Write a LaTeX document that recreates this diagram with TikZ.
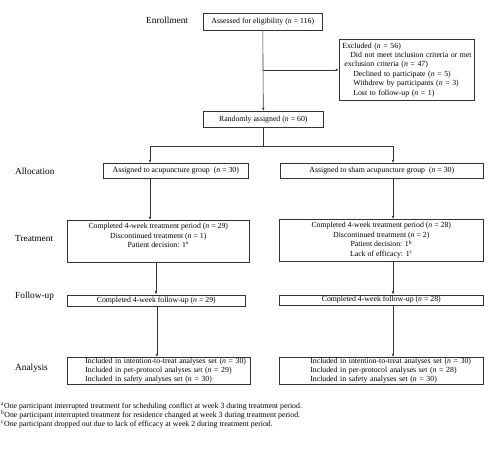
\documentclass[tikz,border=0pt]{standalone}
\usepackage{fontspec}
\setmainfont{Liberation Serif}
\usetikzlibrary{arrows.meta}
\begin{document}
\begin{tikzpicture}[x=1pt,y=-1pt,
  box/.style={draw=black!80, line width=0.6pt, inner sep=0pt, anchor=north west,
    font=\fontsize{7.8}{9.6}\selectfont, align=center},
  lbl/.style={anchor=west, inner sep=0pt, font=\fontsize{9.3}{11}\selectfont},
  note/.style={anchor=base west, inner sep=0pt, font=\fontsize{7.8}{9.6}\selectfont},
  arr/.style={draw=black!80, line width=0.6pt, -{Latex[length=3.2pt,width=2.6pt]}},
  ln/.style={draw=black!80, line width=0.6pt}]
\useasboundingbox (0,0) rectangle (495,461);

% stage labels
\node[lbl] (lenr) at (146,20) {Enrollment};
\node[lbl] (lall) at (15,171) {Allocation};
\node[lbl] (ltre) at (15,238) {Treatment};
\node[lbl] (lfol) at (15,296) {Follow-up};
\node[lbl] (lana) at (15,368) {Analysis};

% enrollment
\node[box, minimum width=119pt, minimum height=17pt] (assess) at (203,13)
  {Assessed for eligibility (\textit{n} = 116)};
\node[box, minimum width=135pt, minimum height=61pt, text width=135pt, align=left,
  font=\fontsize{7.8}{9.4}\selectfont] (excl) at (339,39)
  {\mbox{\hspace*{3pt}Excluded (\textit{n} = 56)}\\
   \mbox{\hspace*{11pt}Did not meet inclusion criteria or met}\\
   \mbox{\hspace*{5pt}exclusion criteria (\textit{n} = 47)}\\
   \mbox{\hspace*{14pt}Declined to participate (\textit{n} = 5)}\\
   \mbox{\hspace*{14pt}Withdrew by participants (\textit{n} = 3)}\\
   \mbox{\hspace*{14pt}Lost to follow-up (\textit{n} = 1)}};
\node[box, minimum width=120pt, minimum height=16pt] (rnd) at (203,111)
  {Randomly assigned (\textit{n} = 60)};

% allocation
\node[box, minimum width=145pt, minimum height=15pt] (allocL) at (103,163)
  {Assigned to acupuncture group~ (\textit{n} = 30)};
\node[box, minimum width=203pt, minimum height=15pt] (allocR) at (280,163)
  {Assigned to sham acupuncture group~ (\textit{n} = 30)};

% treatment
\node[box, minimum width=182pt, minimum height=42pt] (treatL) at (67,220)
  {Completed 4-week treatment period (\textit{n} = 29)\\
   Discontinued treatment (\textit{n} = 1)\\
   Patient decision: 1\textsuperscript{a}\\[2pt]};
\node[box, minimum width=204pt, minimum height=42pt] (treatR) at (279,219)
  {Completed 4-week treatment period (\textit{n} = 28)\\
   Discontinued treatment (\textit{n} = 2)\\
   Patient decision: 1\textsuperscript{b}\\
   Lack of efficacy: 1\textsuperscript{c}};

% follow-up
\node[box, minimum width=178pt, minimum height=11pt] (fuL) at (67,294.5)
  {Completed 4-week follow-up (\textit{n} = 29)};
\node[box, minimum width=204pt, minimum height=10pt] (fuR) at (279,294.5)
  {Completed 4-week follow-up (\textit{n} = 28)};

% analysis
\node[box, minimum width=183pt, minimum height=27pt, text width=183pt, align=left,
  font=\fontsize{7.8}{8.7}\selectfont] (anL) at (67,357)
  {\mbox{\hspace*{18pt}Included in intention-to-treat analyses set (\textit{n} = 30)}\\
   \mbox{\hspace*{18pt}Included in per-protocol analyses set (\textit{n} = 29)}\\
   \mbox{\hspace*{18pt}Included in safety analyses set (\textit{n} = 30)}};
\node[box, minimum width=204pt, minimum height=27pt, text width=204pt, align=left,
  font=\fontsize{7.8}{8.7}\selectfont] (anR) at (279,357)
  {\mbox{\hspace*{31pt}Included in intention-to-treat analyses set (\textit{n} = 30)}\\
   \mbox{\hspace*{31pt}Included in per-protocol analyses set (\textit{n} = 28)}\\
   \mbox{\hspace*{31pt}Included in safety analyses set (\textit{n} = 30)}};

% footnotes
\node[note] (fn1) at (1,408.5) {\textsuperscript{a}One participant interrupted treatment for scheduling conflict at week 3 during treatment period.};
\node[note] (fn2) at (1,417.5) {\textsuperscript{b}One participant interrupted treatment for residence changed at week 3 during treatment period.};
\node[note] (fn3) at (1,426.5) {\textsuperscript{c}One participant dropped out due to lack of efficacy at week 2 during treatment period.};

% connectors
\coordinate (spL) at (150,146);
\coordinate (spR) at (393,146);
\coordinate (cL2) at (156,0);
\coordinate (cL3) at (157,0);

\draw[arr] (assess.south) -- (rnd.north);
\draw[arr] (assess.south |- excl.west) -- (excl.west);
\draw[arr] (rnd.south) |- (spL) -- (spL |- allocL.north);
\draw[arr] (rnd.south) |- (spR) -- (spR |- allocR.north);
\draw[arr] (spL |- allocL.south) -- (spL |- treatL.north);
\draw[arr] (spR |- allocR.south) -- (spR |- treatR.north);
\draw[arr] (cL2 |- treatL.south) -- (cL2 |- fuL.north);
\draw[arr] (spR |- treatR.south) -- (spR |- fuR.north);
\draw[arr] (cL3 |- fuL.south) -- (cL3 |- anL.north);
\draw[arr] (spR |- fuR.south) -- (spR |- anR.north);
\end{tikzpicture}
\end{document}
